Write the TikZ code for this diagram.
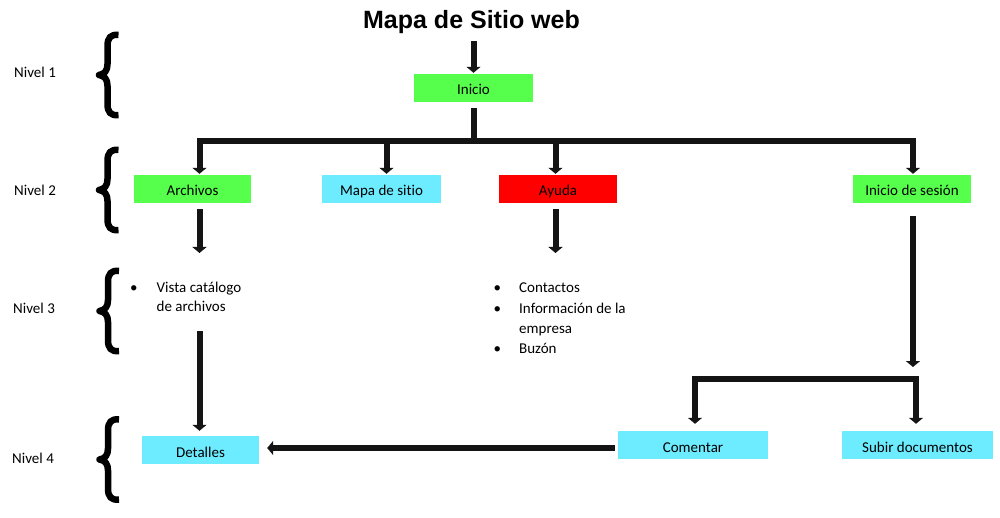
\documentclass[tikz,border=0pt]{standalone}
\usepackage{fontspec}
\setmainfont{Carlito}[Ligatures=NoCommon]
\newfontfamily\titlefont{Liberation Sans}
\usetikzlibrary{arrows.meta}
\definecolor{bgreen}{RGB}{85,255,75}
\definecolor{bcyan}{RGB}{110,236,255}
\definecolor{bred}{RGB}{255,0,0}
\definecolor{lc}{RGB}{20,20,20}
\begin{document}
\begin{tikzpicture}[x=1pt,y=-1pt,
  box/.style={inner sep=0pt, minimum height=28pt, text height=14pt, text depth=0pt, font=\fontsize{15}{18}\selectfont, text=black},
  ln/.style={draw=lc, line width=6pt},
  arr/.style={ln, -{Triangle[width=14pt,length=6pt]}},
  lbl/.style={anchor=west, inner sep=0pt, font=\fontsize{15}{18}\selectfont},
  itm/.style={anchor=base west, inner sep=0pt, font=\fontsize{15}{18}\selectfont},
  lbrace/.pic={\draw[line width=6.5pt, black, line cap=butt, line join=round]
     (11,-40) .. controls (3,-41) and (0,-37) .. (0,-29) -- (0,-11)
     .. controls (0,-4) and (-3,-1) .. (-8.5,0)
     .. controls (-3,1) and (0,4) .. (0,11) -- (0,29)
     .. controls (0,37) and (3,41) .. (11,40);}]
\useasboundingbox[fill=white] (0,0) rectangle (1000,518);

% title
\node[inner sep=0pt, anchor=base, font=\titlefont\bfseries\fontsize{25}{30}\selectfont] (ttl) at (471.5,29) {Mapa de Sitio web};

% level labels
\node[lbl] (n1) at (14,72) {Nivel 1};
\node[lbl] (n2) at (14,190) {Nivel 2};
\node[lbl] (n3) at (13,308) {Nivel 3};
\node[lbl] (n4) at (12,458) {Nivel 4};

% braces
\pic at (107.5,75) {lbrace};
\pic at (107.5,190) {lbrace};
\pic at (108,311) {lbrace};
\pic at (108,459.5) {lbrace};

% boxes
\node[box, fill=bgreen, minimum width=119pt] (inicio) at (473.5,88) {Inicio};
\node[box, fill=bgreen, minimum width=117pt] (archivos) at (192.5,189) {Archivos};
\node[box, fill=bcyan, minimum width=119pt] (mapa) at (381.5,189) {Mapa de sitio};
\node[box, fill=bred, minimum width=118pt] (ayuda) at (558,189) {Ayuda};
\node[box, fill=bgreen, minimum width=118pt] (sesion) at (912,189) {Inicio de sesión};
\node[box, fill=bcyan, minimum width=117pt] (detalles) at (200.5,450) {Detalles};
\node[box, fill=bcyan, minimum width=150pt] (comentar) at (693,445) {Comentar};
\node[box, fill=bcyan, minimum width=151pt] (subir) at (917.5,445) {Subir documentos};

% lists
\node[itm] (v1) at (130,292) {\makebox[26.5pt][l]{•}Vista catálogo};
\node[itm] (v2) at (156.5,311) {de archivos};
\node[itm] (c1) at (493.5,292) {\makebox[25.5pt][l]{•}Contactos};
\node[itm] (c2) at (493.5,313) {\makebox[25.5pt][l]{•}Información de la};
\node[itm] (c3) at (519,333) {empresa};
\node[itm] (c4) at (493.5,353) {\makebox[25.5pt][l]{•}Buzón};

% coordinates
\coordinate (bus) at (473.5,141.5);
\coordinate (a3) at (199.5,253);
\coordinate (a3s) at (199.5,331);
\coordinate (h3) at (555.5,253);
\coordinate (sdown) at (913,367);
\coordinate (brM) at (805,379);

% connectors
\draw[arr, shorten <=7pt, shorten >=1pt] (ttl.south -| inicio.north) -- (inicio.north);
\draw[ln, shorten <=6pt] (inicio.south) -- (bus);
\draw[arr, shorten >=1pt] (bus) -| ([xshift=7pt]archivos.north);
\draw[arr, shorten >=1pt] (bus) -| ([xshift=1pt]sesion.north);
\draw[arr, shorten >=1pt] ([xshift=5pt]mapa.north |- bus) -- ([xshift=5pt]mapa.north);
\draw[arr, shorten >=1pt] ([xshift=-2.5pt]ayuda.north |- bus) -- ([xshift=-2.5pt]ayuda.north);
\draw[arr, shorten <=6pt] ([xshift=7pt]archivos.south) -- (a3);
\draw[arr, shorten <=6pt] ([xshift=-2.5pt]ayuda.south) -- (h3);
\draw[arr, shorten >=5pt] (a3s) -- (a3s |- detalles.north);
\draw[arr, shorten <=13pt] ([xshift=1pt]sesion.south) -- (sdown);
\draw[arr, shorten >=7pt] (brM) -| ([xshift=2pt]comentar.north);
\draw[arr, shorten >=7pt] (brM) -| ([xshift=-1.5pt]subir.north);
\draw[arr, shorten <=3pt, shorten >=8pt] ([yshift=-3pt]comentar.west) -- ([yshift=2pt]detalles.east);
\end{tikzpicture}
\end{document}
